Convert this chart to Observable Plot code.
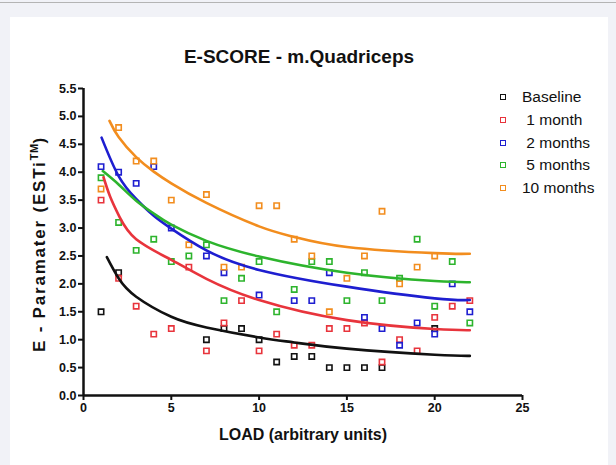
<!DOCTYPE html>
<html><head><meta charset="utf-8">
<script src="https://cdn.jsdelivr.net/npm/d3@7"></script>
<script src="https://cdn.jsdelivr.net/npm/@observablehq/plot@0.6"></script>
<style>
html,body{margin:0;padding:0;background:#f1f2f7;}
#wrap{position:relative;width:616px;height:465px;overflow:hidden;background:#f1f2f7;font-family:"Liberation Sans",Arial,sans-serif;color:#111;}
#topline{position:absolute;left:0;top:2px;width:616px;height:1px;background:#b4b4b4;}
#panel{position:absolute;left:10px;top:17px;width:598px;height:460px;background:#fff;}
#chart{position:absolute;left:0;top:0;}
#title{position:absolute;left:0;width:598px;top:45px;text-align:center;font-weight:bold;font-size:19px;line-height:24px;}
#ylabel{position:absolute;left:-110px;top:233px;width:300px;height:22px;line-height:22px;text-align:center;font-weight:bold;font-size:17px;letter-spacing:1.8px;transform:rotate(-90deg);white-space:nowrap;}
#ylabel sup{font-size:11px;line-height:0;letter-spacing:0.5px;}
#xlabel{position:absolute;left:0;width:606px;top:425px;text-align:center;font-weight:bold;font-size:16px;line-height:20px;}
.leg{position:absolute;left:498px;height:20px;line-height:20px;font-size:15.5px;white-space:pre;}
.leg i{position:absolute;left:2px;top:7px;width:4px;height:4px;border:1.5px solid;box-sizing:content-box;}
.leg span{position:absolute;left:24px;top:0;}
</style>
</head><body>
<div id="wrap">
  <div id="topline"></div>
  <div id="panel"></div>
  <div id="chart"></div>
  <div id="title">E-SCORE - m.Quadriceps</div>
  <div id="ylabel">E - Paramater (ESTi<sup>TM</sup>)</div>
  <div id="xlabel">LOAD (arbitrary units)</div>
</div>
<script>
// ---- data ----
const seriesNames = ["Baseline", " 1 month", " 2 months", " 5 months", "10 months"];
const seriesColors = ["#111111", "#e8343c", "#1e1ed0", "#2db42d", "#f28d1e"];

const baselineX = [1, 2, 7, 8, 9, 10, 11, 12, 13, 14, 15, 16, 17, 20];
const baselineY = [1.5, 2.2, 1.0, 1.2, 1.2, 1.0, 0.6, 0.7, 0.7, 0.5, 0.5, 0.5, 0.5, 1.2];

const month1X = [1, 2, 3, 4, 5, 6, 7, 8, 9, 10, 11, 12, 13, 14, 15, 16, 17, 18, 19, 20, 21, 22];
const month1Y = [3.5, 2.1, 1.6, 1.1, 1.2, 2.3, 0.8, 1.3, 1.7, 0.8, 1.1, 0.9, 0.9, 1.2, 1.2, 1.3, 0.6, 1.0, 0.8, 1.4, 1.6, 1.7];

const month2X = [1, 2, 3, 4, 5, 7, 8, 10, 12, 13, 14, 16, 17, 18, 19, 20, 21, 22];
const month2Y = [4.1, 4.0, 3.8, 4.1, 3.0, 2.5, 2.2, 1.8, 1.7, 1.7, 2.2, 1.4, 1.2, 0.9, 1.3, 1.1, 2.0, 1.5];

const month5X = [1, 2, 3, 4, 5, 6, 7, 8, 9, 10, 11, 12, 13, 14, 15, 16, 17, 18, 19, 20, 21, 22];
const month5Y = [3.9, 3.1, 2.6, 2.8, 2.4, 2.5, 2.7, 1.7, 2.1, 2.4, 1.5, 1.9, 2.4, 2.4, 1.7, 2.2, 1.7, 2.1, 2.8, 1.6, 2.4, 1.3];

const month10X = [1, 2, 3, 4, 5, 6, 7, 8, 9, 10, 11, 12, 13, 14, 15, 16, 17, 18, 19, 20];
const month10Y = [3.7, 4.8, 4.2, 4.2, 3.5, 2.7, 3.6, 2.3, 2.3, 3.4, 3.4, 2.8, 2.5, 1.5, 2.1, 2.5, 3.3, 2.0, 2.3, 2.5];

// fitted curves, points
const baselineCurveX = [1.33, 2, 3, 5, 7, 10, 12, 15, 20, 22];
const baselineCurveY = [2.48, 2.10, 1.77, 1.41, 1.22, 1.04, 0.95, 0.84, 0.73, 0.71];
const month1CurveX = [1.14, 1.52, 2.05, 3, 5, 7, 10, 15, 20, 22];
const month1CurveY = [3.91, 3.56, 3.20, 2.80, 2.43, 2.09, 1.71, 1.35, 1.19, 1.17];
const month2CurveX = [1.03, 2, 3, 4, 5, 7, 10, 15, 20, 22];
const month2CurveY = [4.62, 3.93, 3.52, 3.22, 2.99, 2.60, 2.25, 1.95, 1.74, 1.71];
const month5CurveX = [1.1, 2, 3, 4, 5, 7, 10, 15, 20, 22];
const month5CurveY = [4.02, 3.78, 3.49, 3.26, 3.06, 2.77, 2.49, 2.20, 2.05, 2.03];
const month10CurveX = [1.48, 2, 3, 4, 5, 7, 10, 12, 15, 20, 22];
const month10CurveY = [4.92, 4.63, 4.27, 4.01, 3.80, 3.45, 3.03, 2.84, 2.66, 2.55, 2.54];

const xTicks = [0, 5, 10, 15, 20, 25];
const yTicks = [0, 0.5, 1, 1.5, 2, 2.5, 3, 3.5, 4, 4.5, 5, 5.5];

// ---- build tables ----
const pointSets = [[baselineX, baselineY], [month1X, month1Y], [month2X, month2Y], [month5X, month5Y], [month10X, month10Y]];
const curveSets = [[baselineCurveX, baselineCurveY], [month1CurveX, month1CurveY], [month2CurveX, month2CurveY], [month5CurveX, month5CurveY], [month10CurveX, month10CurveY]];
const points = [], curves = [];
pointSets.forEach(([xs, ys], i) => xs.forEach((x, j) => points.push({x, y: ys[j], s: seriesNames[i]})));
curveSets.forEach(([xs, ys], i) => xs.forEach((x, j) => curves.push({x, y: ys[j], s: seriesNames[i]})));

const color = {domain: seriesNames, range: seriesColors};

const chart = Plot.plot({
  width: 616, height: 465,
  marginLeft: 83, marginRight: 94, marginTop: 88, marginBottom: 70,
  style: {background: "transparent", fontFamily: "Liberation Sans, Arial, sans-serif", color: "#111", overflow: "visible"},
  x: {domain: [0, 25]},
  y: {domain: [0, 5.5]},
  color,
  marks: [
    Plot.axisX({ticks: xTicks, tickSize: 5, strokeWidth: 2, tickPadding: 3, fontSize: 12.5, fontWeight: "bold", label: null, tickFormat: d3.format("d")}),
    Plot.axisY({ticks: yTicks, tickSize: 5, strokeWidth: 2, tickPadding: 2, fontSize: 12.5, fontWeight: "bold", label: null, tickFormat: d3.format(".1f")}),
    Plot.dot(points, {x: "x", y: "y", stroke: "s", symbol: "square", r: 3, strokeWidth: 1.6, fill: "none"}),
    Plot.line(curves, {x: "x", y: "y", stroke: "s", z: "s", curve: "natural", strokeWidth: 2.6}),
    Plot.ruleX([0], {y1: 0, y2: 5.5, stroke: "#111", strokeWidth: 2.5}),
    Plot.ruleY([0], {x1: 0, x2: 25, stroke: "#111", strokeWidth: 2.5})
  ]
});
document.getElementById("chart").appendChild(chart);

// legend
const wrap = document.getElementById("wrap");
seriesNames.forEach((name, i) => {
  const d = document.createElement("div");
  d.className = "leg";
  d.style.top = (87 + i * 22.8) + "px";
  d.innerHTML = `<i style="border-color:${seriesColors[i]}"></i><span>${name}</span>`;
  wrap.appendChild(d);
});
</script>
</body></html>
